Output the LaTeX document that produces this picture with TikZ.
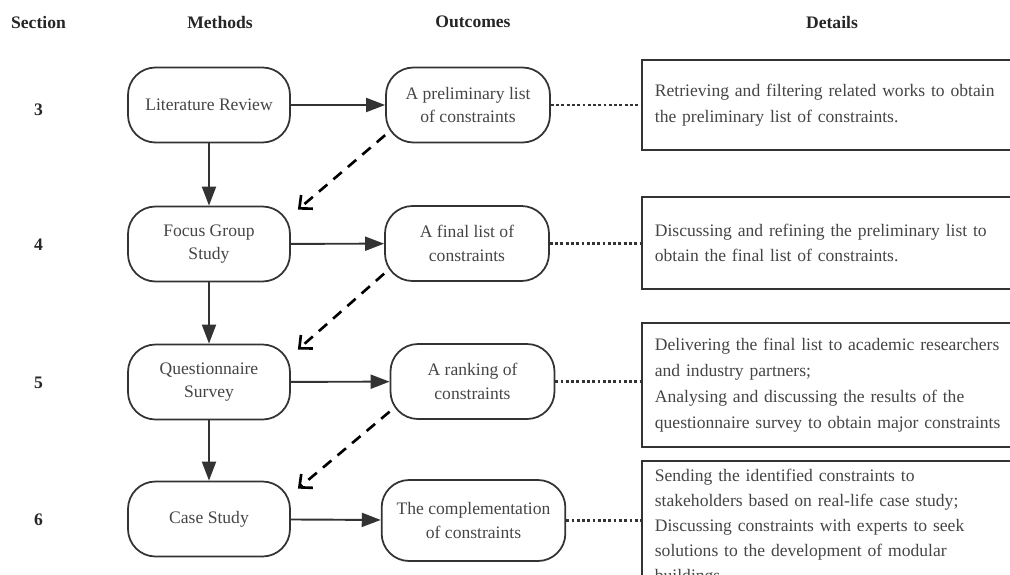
\documentclass[tikz,border=0pt]{standalone}
\usepackage{fontspec}
\setmainfont{Liberation Serif}
\usepackage{xcolor}
\usetikzlibrary{positioning,arrows.meta}
\definecolor{linegray}{HTML}{333333}
\definecolor{textgray}{HTML}{454545}

\begin{document}
\begin{tikzpicture}[
        >={Triangle[length=0.38cm,width=0.28cm]},
        every node/.style={font=\fontsize{10}{13.5}\selectfont, text=textgray},
        head/.style={font=\bfseries\fontsize{10}{12}\selectfont, text=black!85},
        method/.style={draw=linegray, line width=1pt, rounded corners=0.55cm, minimum width=3.24cm, minimum height=1.5cm, align=center},
        outcome/.style={method, minimum width=3.28cm, inner xsep=0.3cm},
        detail/.style={draw=linegray, line width=1pt, text width=7.6cm, align=left, inner xsep=0.26cm, font=\fontsize{10}{14.7}\selectfont},
        flow/.style={->, draw=linegray, line width=1.1pt},
        feedback/.style={-{Straight Barb[length=0.2cm,width=0.36cm,line width=1.5pt]}, black, line width=1.5pt, dash pattern=on 0.22cm off 0.16cm},
        link/.style={draw=linegray, line width=1.3pt, dash pattern=on 1.6pt off 1.4pt}
    ]
        \useasboundingbox (0,0) rectangle (20.2,-11.48);
        \clip (0,0) rectangle (20.2,-11.48);

        % column heads
        \node[head] (hsec) at (0.77,-0.44) {Section};
        \node[head] (hmet) at (4.40,-0.44) {Methods};
        \node[head] (hout) at (9.46,-0.44) {Outcomes};
        \node[head] (hdet) at (16.64,-0.44) {Details};

        % section numbers
        \node[head] (s3) at (0.77,-2.20) {3};
        \node[head] (s4) at (0.77,-4.90) {4};
        \node[head] (s5) at (0.77,-7.66) {5};
        \node[head] (s6) at (0.77,-10.40) {6};

        % methods
        \node[method] (m1) at (4.18,-2.10) {Literature Review};
        \node[method] (m2) at (4.18,-4.88) {Focus Group\\ Study};
        \node[method] (m3) at (4.18,-7.64) {Questionnaire\\ Survey};
        \node[method] (m4) at (4.18,-10.38) {Case Study};

        % outcomes
        \node[outcome] (o1) at (9.36,-2.10) {A preliminary list\\ of constraints};
        \node[outcome] (o2) at (9.34,-4.87) {A final list of\\ constraints};
        \node[outcome] (o3) at (9.45,-7.63) {A ranking of\\ constraints};
        \node[outcome, minimum height=1.62cm] (o4) at (9.47,-10.41) {The complementation\\ of constraints};

        % details
        \node[detail, anchor=west, minimum height=1.8cm] (d1) at (12.82,-2.10) {Retrieving and filtering related works to obtain\\ the preliminary list of constraints.};
        \node[detail, anchor=west, minimum height=1.84cm] (d2) at (12.82,-4.86) {Discussing and refining the preliminary list to\\ obtain the final list of constraints.};
        \node[detail, anchor=west, minimum height=2.48cm] (d3) at (12.82,-7.70) {Delivering the final list to academic researchers\\ and industry partners;\\ Analysing and discussing the results of the\\ questionnaire survey to obtain major constraints};
        \node[detail, anchor=north west, inner ysep=0.16cm, font=\fontsize{10}{14.2}\selectfont] (d4) at (12.82,-9.20) {Sending the identified constraints to\\ stakeholders based on real-life case study;\\ Discussing constraints with experts to seek\\ solutions to the development of modular\\ buildings.};

        \draw[flow] (m1) -- (o1);
        \draw[flow] (m2) -- (o2);
        \draw[flow] (m3) -- (o3);
        \draw[flow] (m4) -- (o4);
        \draw[flow] (m1) -- (m2);
        \draw[flow] (m2) -- (m3);
        \draw[flow] (m3) -- (m4);

        \draw[feedback] (o1.200) -- ([xshift=0.14cm,yshift=-0.08cm]m2.north east);
        \draw[feedback] (o2.200) -- ([xshift=0.14cm,yshift=-0.12cm]m3.north east);
        \draw[feedback] (o3.200) -- ([xshift=0.14cm,yshift=-0.16cm]m4.north east);

        \draw[link] (o1.east) -- (o1.east -| d1.west);
        \draw[link] (o2.east) -- (o2.east -| d2.west);
        \draw[link] (o3.east) -- (o3.east -| d3.west);
        \draw[link] (o4.east) -- (o4.east -| d4.west);
    \end{tikzpicture}
\end{document}
